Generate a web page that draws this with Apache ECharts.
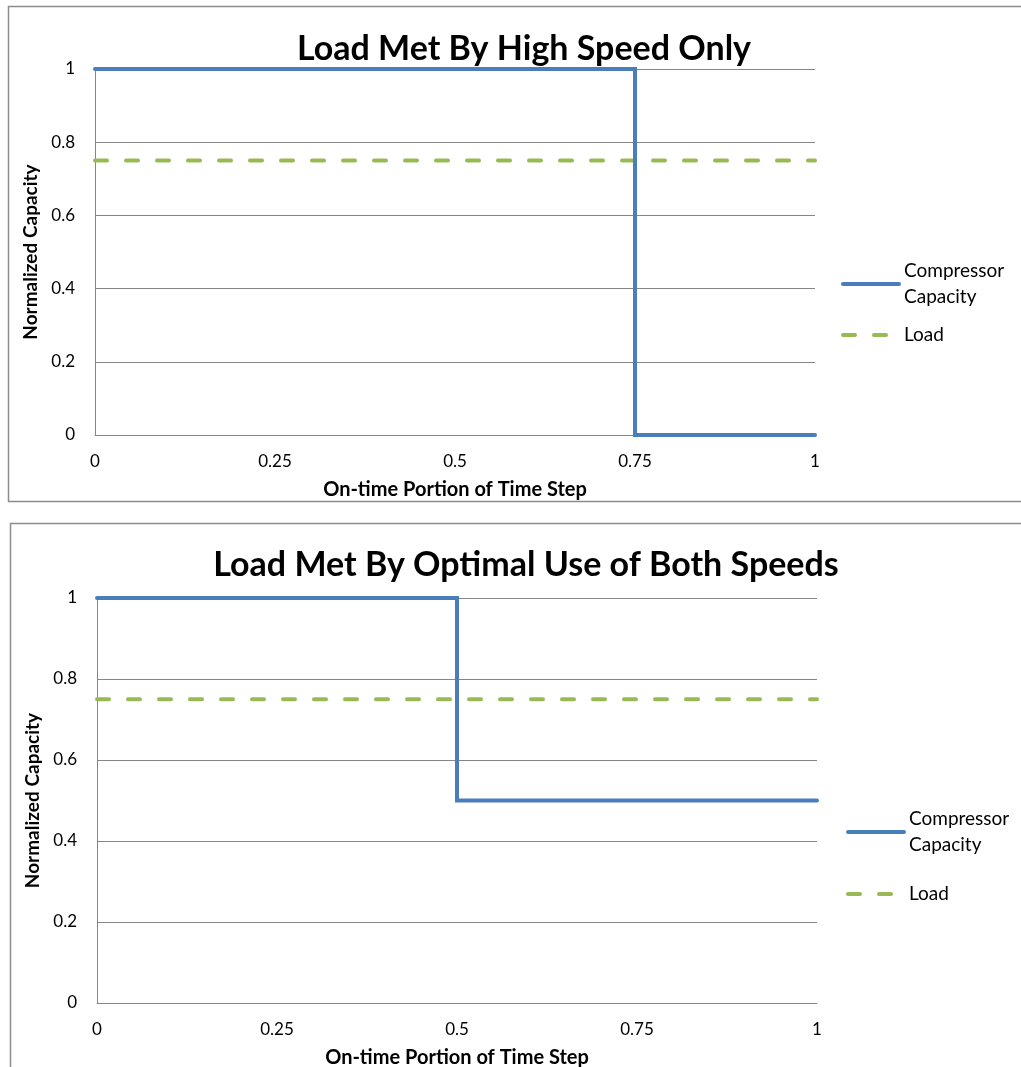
<!DOCTYPE html>
<html>
<head>
<meta charset="utf-8">
<script src="https://cdn.jsdelivr.net/npm/echarts@6/dist/echarts.min.js"></script>
<style>
  html, body { margin: 0; padding: 0; background: #fff; }
  #chart { width: 1021px; height: 1067px; }
</style>
</head>
<body>
<div id="chart"></div>
<script>
// Panel titles and series names
const titles = ['Load Met By High Speed Only', 'Load Met By Optimal Use of Both Speeds'];
const seriesNames = ['Compressor Capacity', 'Load'];
const xAxisTitle = 'On-time Portion of Time Step';
const yAxisTitle = 'Normalized Capacity';

// Top panel: high speed runs 75% of the step, then off
const highOnlyX = [0, 0.75, 0.75, 1];
const highOnlyY = [1, 1, 0, 0];

// Bottom panel: high speed half the step, low speed (0.5) the rest
const bothSpeedsX = [0, 0.5, 0.5, 1];
const bothSpeedsY = [1, 1, 0.5, 0.5];

// Constant load across the step
const loadX = [0, 1];
const loadY = [0.75, 0.75];

const zip = (xs, ys) => xs.map((x, i) => [x, ys[i]]);

const FONT = 'Lato, "Open Sans", sans-serif';
const BLUE = '#4a7ebb';
const GREEN = '#98b954';
const GRID_GRAY = '#868686';

function axisPair(i) {
  return {
    x: {
      type: 'value', gridIndex: i, min: 0, max: 1, interval: 0.25,
      axisLine: { show: true, lineStyle: { color: GRID_GRAY, width: 1 } },
      axisTick: { show: false },
      splitLine: { show: false },
      axisLabel: { color: '#000', fontFamily: FONT, fontSize: 17, margin: 18 },
      name: xAxisTitle, nameLocation: 'middle', nameGap: 45,
      nameTextStyle: { color: '#000', fontFamily: FONT, fontSize: 20, fontWeight: 'bold' }
    },
    y: {
      type: 'value', gridIndex: i, min: 0, max: 1, interval: 0.2,
      axisLine: { show: true, lineStyle: { color: GRID_GRAY, width: 1 } },
      axisTick: { show: false },
      splitLine: { show: true, lineStyle: { color: GRID_GRAY, width: 1 } },
      axisLabel: { color: '#000', fontFamily: FONT, fontSize: 17, margin: 20 },
      name: yAxisTitle, nameLocation: 'middle', nameGap: 53, nameRotate: 90,
      nameTextStyle: { color: '#000', fontFamily: FONT, fontSize: 19, fontWeight: 'bold' }
    }
  };
}

const a0 = axisPair(0), a1 = axisPair(1);

function capSeries(i, data) {
  return {
    name: seriesNames[0], type: 'line', xAxisIndex: i, yAxisIndex: i,
    data: data, symbol: 'none', clip: false, animation: false,
    lineStyle: { color: BLUE, width: 4, cap: 'round', join: 'miter' },
    itemStyle: { color: BLUE }, z: 3
  };
}
function loadSeries(i) {
  return {
    name: seriesNames[1], type: 'line', xAxisIndex: i, yAxisIndex: i,
    data: zip(loadX, loadY), symbol: 'none', clip: false, animation: false,
    lineStyle: { color: GREEN, width: 4, type: [12, 19], cap: 'round' },
    itemStyle: { color: GREEN }, z: 2
  };
}

// Legend shows line samples only (no point markers)
function legendAt(left, top, gap) {
  return {
    show: true, left: left, top: top, orient: 'vertical', padding: 0,
    itemWidth: 56, itemHeight: 14, itemGap: gap, selectedMode: false,
    lineStyle: { width: 4, cap: 'round' },
    itemStyle: { opacity: 0, borderWidth: 0 },
    data: seriesNames,
    formatter: function (n) { return n.replace(' ', '\n'); },
    textStyle: { color: '#000', fontFamily: FONT, fontSize: 19, lineHeight: 26 }
  };
}

const chart = echarts.init(document.getElementById('chart'), null, { renderer: 'canvas' });
chart.setOption({
  backgroundColor: '#fff',
  animation: false,
  title: [
    { text: titles[0], left: 519, top: 27, textAlign: 'center',
      textStyle: { color: '#000', fontFamily: FONT, fontSize: 34, fontWeight: 'bold' } },
    { text: titles[1], left: 521, top: 543, textAlign: 'center',
      textStyle: { color: '#000', fontFamily: FONT, fontSize: 34, fontWeight: 'bold' } }
  ],
  legend: [legendAt(841, 258, 12), legendAt(846, 806, 23)],
  grid: [
    { left: 95, top: 69, width: 720, height: 366, outerBoundsMode: 'none' },
    { left: 97, top: 598, width: 720, height: 405, outerBoundsMode: 'none' }
  ],
  xAxis: [a0.x, a1.x],
  yAxis: [a0.y, a1.y],
  series: [
    capSeries(0, zip(highOnlyX, highOnlyY)),
    loadSeries(0),
    capSeries(1, zip(bothSpeedsX, bothSpeedsY)),
    loadSeries(1)
  ],
  graphic: [
    { type: 'rect', shape: { x: 8.5, y: 6.5, width: 1040, height: 495 },
      style: { fill: null, stroke: '#8c8c8c', lineWidth: 1.5 }, silent: true, z: -1 },
    { type: 'rect', shape: { x: 10.5, y: 523.5, width: 1040, height: 600 },
      style: { fill: null, stroke: '#8c8c8c', lineWidth: 1.5 }, silent: true, z: -1 }
  ]
});
</script>
</body>
</html>
